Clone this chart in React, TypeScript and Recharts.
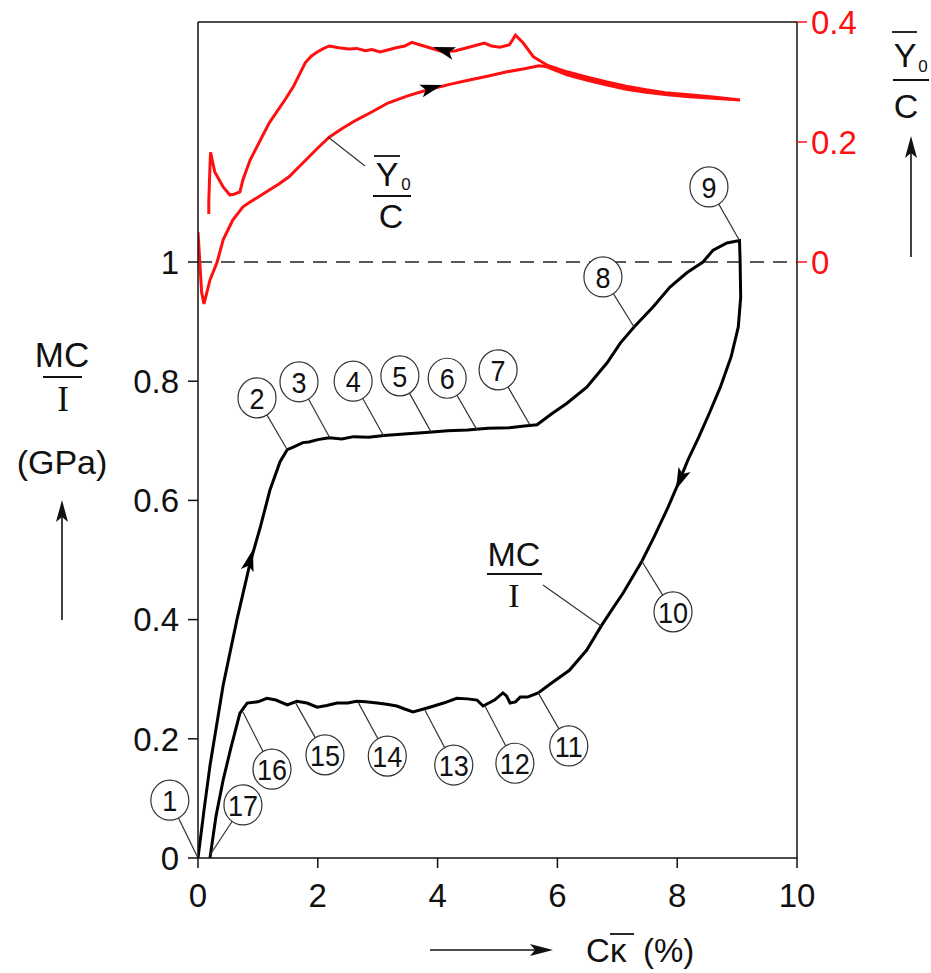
import React from 'react';
import { LineChart, Line, XAxis, YAxis, ReferenceLine, ReferenceDot } from 'recharts';

const X_TICKS = [0, 2, 4, 6, 8, 10];
const MOMENT_TICKS = [0, 0.2, 0.4, 0.6, 0.8, 1];
const NEUTRAL_TICKS = [0, 0.2, 0.4];

// C*kappa (%) and MC/I (GPa) along the moment loop, in drawing order
const momentX = [
  0, 0.1, 0.2, 0.42, 0.65, 0.87, 1.04, 1.2, 1.37, 1.49, 1.6, 1.75, 1.85, 2.0, 2.19, 2.4, 2.6, 2.85, 3.1, 3.5,
  3.8, 4.17, 4.5, 4.84, 5.2, 5.45, 5.66, 5.9, 6.16, 6.49, 6.83, 7.05, 7.28, 7.6, 7.88, 8.16, 8.43, 8.6, 8.83, 9.04,
  9.05, 9.06, 9.02, 8.9, 8.72, 8.54, 8.36, 8.18, 8.02, 7.85, 7.62, 7.41, 7.1, 6.9, 6.73, 6.49, 6.2, 5.88, 5.68, 5.5,
  5.38, 5.3, 5.21, 5.15, 5.09, 4.95, 4.76, 4.66, 4.5, 4.32, 4.1, 3.87, 3.59, 3.45, 3.32, 3.15, 2.99, 2.8, 2.65, 2.5,
  2.32, 2.15, 1.99, 1.82, 1.65, 1.49, 1.3, 1.15, 1.0, 0.82, 0.7, 0.55, 0.42, 0.3, 0.2,
];
const momentY = [
  0, 0.08, 0.155, 0.29, 0.4, 0.495, 0.555, 0.617, 0.665, 0.685, 0.69, 0.697, 0.698, 0.702, 0.705, 0.703, 0.707, 0.706, 0.709, 0.712,
  0.714, 0.717, 0.718, 0.721, 0.722, 0.725, 0.727, 0.745, 0.763, 0.79, 0.831, 0.864, 0.891, 0.925, 0.958, 0.982, 1.0, 1.02, 1.032, 1.036,
  1.003, 0.941, 0.891, 0.841, 0.79, 0.747, 0.706, 0.668, 0.629, 0.589, 0.54, 0.498, 0.445, 0.415, 0.389, 0.349, 0.315, 0.292, 0.277, 0.27,
  0.27, 0.262, 0.26, 0.272, 0.277, 0.265, 0.255, 0.265, 0.267, 0.268, 0.26, 0.253, 0.245, 0.25, 0.255, 0.258, 0.26, 0.262, 0.263, 0.26,
  0.26, 0.256, 0.253, 0.26, 0.263, 0.257, 0.265, 0.268, 0.262, 0.26, 0.243, 0.185, 0.131, 0.07, 0,
];

// C*kappa (%) and Y0/C along the same loop
const neutralX = [
  0, 0.03, 0.06, 0.1, 0.15, 0.2, 0.32, 0.42, 0.58, 0.75, 0.87, 1.0, 1.19, 1.35, 1.52, 1.7, 1.85, 2.0, 2.19, 2.4,
  2.65, 2.9, 3.17, 3.5, 3.84, 4.2, 4.51, 4.85, 5.16, 5.45, 5.69, 5.8, 6.16, 6.5, 6.83, 7.15, 7.48, 7.8, 8.15, 8.6,
  9.05, 8.6, 8.15, 7.8, 7.48, 7.15, 6.83, 6.5, 6.16, 5.83, 5.6, 5.43, 5.3, 5.2, 5.04, 4.9, 4.78, 4.6, 4.3, 4.1,
  3.84, 3.7, 3.57, 3.45, 3.31, 3.15, 3.04, 2.9, 2.79, 2.65, 2.52, 2.35, 2.19, 2.1, 1.99, 1.89, 1.79, 1.69, 1.59, 1.45,
  1.3, 1.19, 1.04, 0.87, 0.75, 0.7, 0.6, 0.53, 0.42, 0.28, 0.21, 0.2, 0.19, 0.18, 0.18,
];
const neutralY = [
  0.05, 0.0, -0.05, -0.07, -0.05, -0.03, 0.0, 0.037, 0.07, 0.092, 0.1, 0.108, 0.12, 0.13, 0.142, 0.16, 0.175, 0.19, 0.208, 0.222,
  0.237, 0.25, 0.265, 0.277, 0.287, 0.296, 0.303, 0.31, 0.317, 0.322, 0.327, 0.326, 0.312, 0.303, 0.295, 0.288, 0.283, 0.279, 0.276, 0.273,
  0.27, 0.275, 0.279, 0.282, 0.287, 0.293, 0.3, 0.308, 0.317, 0.328, 0.342, 0.365, 0.378, 0.362, 0.358, 0.36, 0.365, 0.36, 0.352, 0.35,
  0.358, 0.362, 0.366, 0.36, 0.357, 0.353, 0.35, 0.354, 0.352, 0.356, 0.355, 0.357, 0.36, 0.356, 0.35, 0.343, 0.332, 0.312, 0.292, 0.27,
  0.248, 0.232, 0.203, 0.17, 0.137, 0.117, 0.113, 0.112, 0.125, 0.15, 0.183, 0.16, 0.13, 0.1, 0.08,
];

// numbered callouts: circle centre and the point on the curve it points at
const CALLOUT_LABELS = ['1', '2', '3', '4', '5', '6', '7', '8', '9', '10', '11', '12', '13', '14', '15', '16', '17'];
const CALLOUT_X = [-0.47, 0.985, 1.686, 2.59, 3.37, 4.16, 5.01, 6.76, 8.53, 7.93, 6.19, 5.29, 4.27, 3.16, 2.12, 1.235, 0.75];
const CALLOUT_Y = [0.097, 0.772, 0.799, 0.8, 0.809, 0.805, 0.819, 0.975, 1.126, 0.413, 0.188, 0.159, 0.156, 0.171, 0.173, 0.149, 0.089];
const ANCHOR_X = [0, 1.49, 2.2, 3.1, 3.89, 4.66, 5.54, 7.28, 9.04, 7.41, 5.68, 4.79, 3.79, 2.67, 1.62, 0.75, 0.2];
const ANCHOR_Y = [0, 0.685, 0.705, 0.708, 0.715, 0.718, 0.727, 0.891, 1.036, 0.498, 0.277, 0.255, 0.248, 0.262, 0.262, 0.245, 0.005];

// direction arrows on the curves
const ARROW_X = [0.87, 8.05, 3.9, 4.1];
const ARROW_Y = [0.5, 0.635, 0.29, 0.353];
const ARROW_AXIS = ['left', 'left', 'right', 'right'];
const ARROW_ANGLE = [-75, 113, -16, 197];

const momentData = momentX.map((x, i) => ({ x, y: momentY[i] }));
const neutralData = neutralX.map((x, i) => ({ x, y: neutralY[i] }));

const FONT = 'Liberation Sans, Arial, sans-serif';
const RED = '#ff1010';

const Callout = (props: any) => {
  const { cx, cy, text } = props;
  return (
    <g>
      <ellipse cx={cx} cy={cy} rx={19} ry={20} fill="#fff" stroke="#333" strokeWidth={1.2} />
      <text x={cx} y={cy + 11} textAnchor="middle" fontSize={30} fontFamily={FONT} fill="#111"
        transform={`translate(${cx},0) scale(0.9,1) translate(${-cx},0)`}>
        {text}
      </text>
    </g>
  );
};

const ArrowHead = (props: any) => {
  const { cx, cy, angle } = props;
  return (
    <path
      d="M 11 0 L -11 -6.5 L -6 0 L -11 6.5 Z"
      transform={`translate(${cx},${cy}) rotate(${angle})`}
      fill="#000"
    />
  );
};

const Titles = () => (
  <svg width={931} height={973} style={{ position: 'absolute', left: 0, top: 0, pointerEvents: 'none' }}>
    <g fontFamily={FONT} fill="#111">
      {/* left title */}
      <text x={62} y={367} fontSize={35} textAnchor="middle">MC</text>
      <line x1={43} x2={82} y1={377} y2={377} stroke="#111" strokeWidth={2} />
      <text x={63} y={411} fontSize={35} textAnchor="middle" fontFamily="Liberation Serif, serif">I</text>
      <text x={62} y={474} fontSize={34} textAnchor="middle">(GPa)</text>
      <line x1={62} x2={62} y1={620} y2={515} stroke="#111" strokeWidth={1.6} />
      <path d="M 62 500 L 56 522 L 62 517 L 68 522 Z" fill="#111" />

      {/* right title */}
      <line x1={892} x2={917} y1={32} y2={32} stroke="#111" strokeWidth={1.8} />
      <text x={905} y={67} fontSize={34} textAnchor="middle">Y</text>
      <text x={923} y={72} fontSize={17} textAnchor="middle">0</text>
      <line x1={893} x2={929} y1={80} y2={80} stroke="#111" strokeWidth={2} />
      <text x={906} y={118} fontSize={34} textAnchor="middle">C</text>
      <line x1={911} x2={911} y1={257} y2={150} stroke="#111" strokeWidth={1.6} />
      <path d="M 911 136 L 905 158 L 911 153 L 917 158 Z" fill="#111" />

      {/* inline Y0/C label */}
      <line x1={328} x2={365} y1={137} y2={166} stroke="#333" strokeWidth={1.2} />
      <line x1={374} x2={400} y1={156} y2={156} stroke="#111" strokeWidth={1.8} />
      <text x={387} y={186} fontSize={34} textAnchor="middle">Y</text>
      <text x={406} y={190} fontSize={17} textAnchor="middle">0</text>
      <line x1={373} x2={411} y1={196} y2={196} stroke="#111" strokeWidth={2} />
      <text x={391} y={228} fontSize={34} textAnchor="middle">C</text>

      {/* inline MC/I label */}
      <text x={514} y={566} fontSize={34} textAnchor="middle">MC</text>
      <line x1={487} x2={542} y1={574} y2={574} stroke="#111" strokeWidth={2} />
      <text x={514} y={607} fontSize={34} textAnchor="middle" fontFamily="Liberation Serif, serif">I</text>
      <line x1={543} x2={601} y1={585} y2={626} stroke="#333" strokeWidth={1.2} />

      {/* x title */}
      <line x1={430} x2={535} y1={950} y2={950} stroke="#111" strokeWidth={1.6} />
      <path d="M 553 950 L 530 944 L 535 950 L 530 956 Z" fill="#111" />
      <text x={586} y={962} fontSize={33}>C</text>
      <text x={610} y={962} fontSize={33}>κ</text>
      <line x1={610} x2={634} y1={934} y2={934} stroke="#111" strokeWidth={1.8} />
      <text x={643} y={962} fontSize={33}>(%)</text>
    </g>
  </svg>
);

export default function App() {
  return (
    <div style={{ position: 'absolute', left: 0, top: 0, width: 931, height: 973, background: '#fff' }}>
      <LineChart width={931} height={973} margin={{ top: 22, right: 74, bottom: 65, left: 138 }}>
        <XAxis
          dataKey="x"
          type="number"
          domain={[0, 10]}
          ticks={X_TICKS}
          allowDataOverflow
          height={50}
          tickSize={10}
          tickMargin={16}
          axisLine={{ stroke: '#111', strokeWidth: 1.5 }}
          tickLine={{ stroke: '#111', strokeWidth: 1.5 }}
          tick={{ fill: '#111', fontSize: 33, fontFamily: FONT }}
        />
        <YAxis
          yAxisId="left"
          type="number"
          domain={[0, 1.4027]}
          ticks={MOMENT_TICKS}
          allowDataOverflow
          width={60}
          tickSize={10}
          tickMargin={9}
          axisLine={{ stroke: '#111', strokeWidth: 1.5 }}
          tickLine={{ stroke: '#111', strokeWidth: 1.5 }}
          tick={{ fill: '#111', fontSize: 33, fontFamily: FONT }}
        />
        <YAxis
          yAxisId="right"
          orientation="right"
          type="number"
          domain={[-0.9933, 0.4]}
          ticks={NEUTRAL_TICKS}
          allowDataOverflow
          width={60}
          tickSize={10}
          tickMargin={4}
          axisLine={{ stroke: '#111', strokeWidth: 1.5 }}
          tickLine={{ stroke: RED, strokeWidth: 1.5 }}
          tick={{ fill: RED, fontSize: 33, fontFamily: FONT }}
        />
        <ReferenceLine yAxisId="left" y={1.4027} stroke="#111" strokeWidth={1.5} ifOverflow="visible" />
        <ReferenceLine yAxisId="left" y={1} stroke="#222" strokeWidth={1.5} strokeDasharray="14 9" />

        <Line
          yAxisId="right"
          data={neutralData}
          dataKey="y"
          type="linear"
          stroke={RED}
          strokeWidth={3}
          dot={false}
          isAnimationActive={false}
        />
        <Line
          yAxisId="left"
          data={momentData}
          dataKey="y"
          type="linear"
          stroke="#000"
          strokeWidth={3}
          dot={false}
          isAnimationActive={false}
        />

        {CALLOUT_LABELS.map((lab, i) => (
          <ReferenceLine
            key={`lead-${lab}`}
            yAxisId="left"
            ifOverflow="visible"
            segment={[
              { x: ANCHOR_X[i], y: ANCHOR_Y[i] },
              { x: CALLOUT_X[i], y: CALLOUT_Y[i] },
            ]}
            stroke="#333"
            strokeWidth={1.2}
          />
        ))}
        {CALLOUT_LABELS.map((lab, i) => (
          <ReferenceDot
            key={`call-${lab}`}
            yAxisId="left"
            x={CALLOUT_X[i]}
            y={CALLOUT_Y[i]}
            ifOverflow="visible"
            shape={(p: any) => <Callout {...p} text={lab} />}
          />
        ))}
        {ARROW_X.map((ax, i) => (
          <ReferenceDot
            key={`arrow-${i}`}
            yAxisId={ARROW_AXIS[i]}
            x={ax}
            y={ARROW_Y[i]}
            ifOverflow="visible"
            shape={(p: any) => <ArrowHead {...p} angle={ARROW_ANGLE[i]} />}
          />
        ))}
      </LineChart>
      <Titles />
    </div>
  );
}
